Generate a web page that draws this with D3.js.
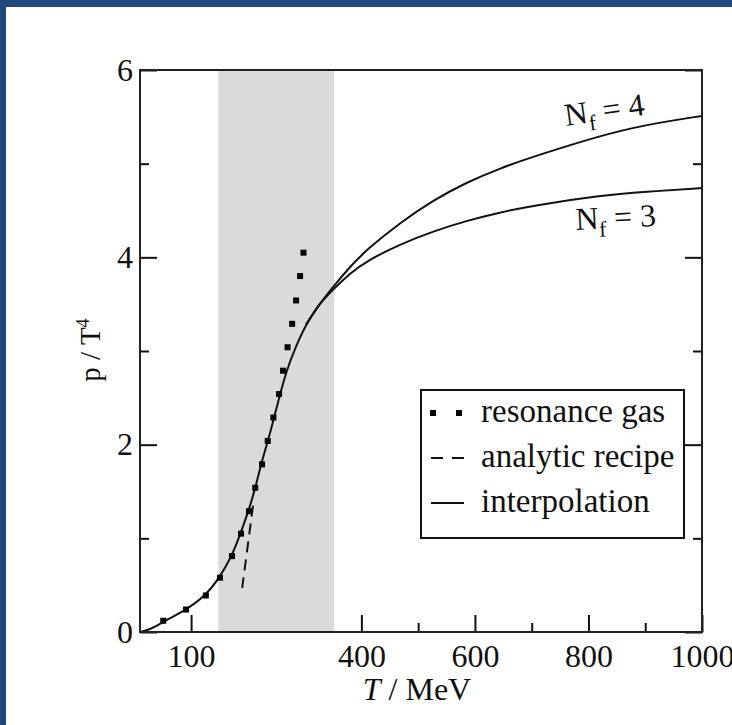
<!DOCTYPE html>
<html>
<head>
<meta charset="utf-8">
<script src="https://cdn.jsdelivr.net/npm/d3@7"></script>
<style>
  body { margin: 0; background: #1f497d; }
  svg { display: block; }
  text { font-family: "Liberation Serif", "Times New Roman", serif; fill: #111; }
</style>
</head>
<body>
<svg id="chart" width="732" height="725"></svg>
<script>
// tick values
const majorT = [100, 400, 600, 800, 1000]
const minorT = [500, 700, 900]
const majorP = [0, 2, 4, 6]
const minorP = [1, 3, 5]

// shaded transition region (MeV)
const bandT = [148, 352]

// resonance gas points
const gasT = [51, 91, 126, 151, 172, 188, 202, 213, 225, 235, 245, 255, 262, 270, 278, 285, 292, 298]
const gasP = [0.12, 0.24, 0.39, 0.58, 0.81, 1.05, 1.29, 1.54, 1.79, 2.04, 2.29, 2.54, 2.79, 3.04, 3.29, 3.54, 3.80, 4.05]

// analytic recipe (dashed)
const recipeT = [190, 200, 210]
const recipeP = [0.47, 0.93, 1.39]

// interpolation, Nf = 3 (low T part shared with Nf = 4)
const nf3T = [10, 30, 54, 91, 126, 151, 171, 187, 201, 213, 223, 235, 245, 256, 268, 284, 302, 326, 335, 350, 380, 409, 468, 527, 585, 644, 700, 821, 900, 1000]
const nf3P = [0, 0.03, 0.12, 0.235, 0.39, 0.59, 0.80, 1.05, 1.29, 1.53, 1.79, 2.03, 2.26, 2.52, 2.79, 3.04, 3.28, 3.50, 3.56, 3.655, 3.83, 3.96, 4.14, 4.28, 4.39, 4.48, 4.55, 4.66, 4.70, 4.74]

// interpolation, Nf = 4 branch
const nf4T = [302, 326, 335, 350, 380, 409, 468, 527, 585, 644, 700, 821, 900, 1000]
const nf4P = [3.28, 3.50, 3.565, 3.685, 3.90, 4.08, 4.37, 4.61, 4.80, 4.95, 5.07, 5.30, 5.415, 5.51]

const legendItems = ['resonance gas', 'analytic recipe', 'interpolation']

const svg = d3.select('#chart')
const fs = 32

svg.append('rect').attr('x', 6).attr('y', 7).attr('width', 726).attr('height', 718).attr('fill', '#fff')

const x = d3.scaleLinear().domain([10, 1000]).range([140, 702])
const y = d3.scaleLinear().domain([0, 6]).range([632, 70])

// band
svg.append('rect')
  .attr('x', x(bandT[0]))
  .attr('y', y(6))
  .attr('width', x(bandT[1]) - x(bandT[0]))
  .attr('height', y(0) - y(6))
  .attr('fill', '#dadada')

const styleAxis = (g) => {
  g.select('.domain').remove()
  g.selectAll('line').attr('stroke', '#111').attr('stroke-width', 2)
  g.selectAll('text').attr('font-size', fs).attr('fill', '#111')
  g.attr('font-family', null).attr('font-size', null)
}

// bottom axis
svg.append('g').attr('transform', `translate(0,${y(0)})`)
  .call(d3.axisBottom(x).tickValues(majorT).tickSizeInner(-17).tickSizeOuter(0).tickPadding(12).tickFormat(d3.format('d')))
  .call(styleAxis)
svg.append('g').attr('transform', `translate(0,${y(0)})`)
  .call(d3.axisBottom(x).tickValues(minorT).tickSizeInner(-9).tickSizeOuter(0).tickFormat(''))
  .call(styleAxis)

// left axis
svg.append('g').attr('transform', `translate(${x(10)},0)`)
  .call(d3.axisLeft(y).tickValues(majorP).tickSizeInner(-17).tickSizeOuter(0).tickPadding(7).tickFormat(d3.format('d')))
  .call(styleAxis)
svg.append('g').attr('transform', `translate(${x(10)},0)`)
  .call(d3.axisLeft(y).tickValues(minorP).tickSizeInner(-9).tickSizeOuter(0).tickFormat(''))
  .call(styleAxis)

// right axis (ticks only)
svg.append('g').attr('transform', `translate(${x(1000)},0)`)
  .call(d3.axisRight(y).tickValues(majorP).tickSizeInner(-17).tickSizeOuter(0).tickFormat(''))
  .call(styleAxis)
svg.append('g').attr('transform', `translate(${x(1000)},0)`)
  .call(d3.axisRight(y).tickValues(minorP).tickSizeInner(-9).tickSizeOuter(0).tickFormat(''))
  .call(styleAxis)

const line = d3.line()
  .x(d => x(d[0]))
  .y(d => y(d[1]))
  .curve(d3.curveBasis)

const plot = svg.append('g')

plot.append('path')
  .attr('d', line(d3.zip(nf4T, nf4P)))
  .attr('fill', 'none').attr('stroke', '#111').attr('stroke-width', 2)

plot.append('path')
  .attr('d', line(d3.zip(nf3T, nf3P)))
  .attr('fill', 'none').attr('stroke', '#111').attr('stroke-width', 2)

plot.append('path')
  .attr('d', line(d3.zip(recipeT, recipeP)))
  .attr('fill', 'none').attr('stroke', '#111').attr('stroke-width', 2)
  .attr('stroke-dasharray', '11,7')

const sq = 6
plot.selectAll('rect.gas')
  .data(d3.zip(gasT, gasP))
  .join('rect')
  .attr('class', 'gas')
  .attr('x', d => x(d[0]) - sq / 2)
  .attr('y', d => y(d[1]) - sq / 2)
  .attr('width', sq)
  .attr('height', sq)
  .attr('fill', '#000')

// frame
svg.append('rect')
  .attr('x', x(10)).attr('y', y(6))
  .attr('width', x(1000) - x(10)).attr('height', y(0) - y(6))
  .attr('fill', 'none').attr('stroke', '#222').attr('stroke-width', 2)

// axis titles
const xt = svg.append('text')
  .attr('x', (x(10) + x(1000)) / 2 - 4).attr('y', 700)
  .attr('text-anchor', 'middle').attr('font-size', fs)
xt.append('tspan').attr('font-style', 'italic').text('T')
xt.append('tspan').text(' / MeV')

const yt = svg.append('text')
  .attr('transform', 'translate(100,350) rotate(-90)')
  .attr('text-anchor', 'middle').attr('font-size', 29)
yt.append('tspan').text('p / T')
yt.append('tspan').attr('dy', -11).attr('font-size', 18).text('4')

// Nf labels
const nfLabel = (tx, ty, ang, n) => {
  const t = svg.append('text')
    .attr('transform', `translate(${tx},${ty}) rotate(${ang})`)
    .attr('font-size', fs)
  t.append('tspan').text('N')
  t.append('tspan').attr('dy', 8).attr('font-size', 22).text('f')
  t.append('tspan').attr('dy', -8).text(' = ' + n)
}
nfLabel(566, 126, -8, 4)
nfLabel(576, 230, -3, 3)

// legend
const lg = svg.append('g')
lg.append('rect')
  .attr('x', 421).attr('y', 390).attr('width', 263).attr('height', 148)
  .attr('fill', '#fff').attr('stroke', '#111').attr('stroke-width', 2)

legendItems.forEach((name, i) => {
  const cy = 413 + i * 45
  if (i === 0) {
    ;[433, 459].forEach(cx => {
      lg.append('rect').attr('x', cx - 3).attr('y', cy - 3).attr('width', 6).attr('height', 6).attr('fill', '#000')
    })
  } else if (i === 1) {
    lg.append('line').attr('x1', 431).attr('x2', 464).attr('y1', cy).attr('y2', cy)
      .attr('stroke', '#111').attr('stroke-width', 2).attr('stroke-dasharray', '12,9')
  } else {
    lg.append('line').attr('x1', 431).attr('x2', 464).attr('y1', cy).attr('y2', cy)
      .attr('stroke', '#111').attr('stroke-width', 2)
  }
  lg.append('text')
    .attr('x', 481).attr('y', cy + 9)
    .attr('font-size', 33)
    .text(name)
})
</script>
</body>
</html>
